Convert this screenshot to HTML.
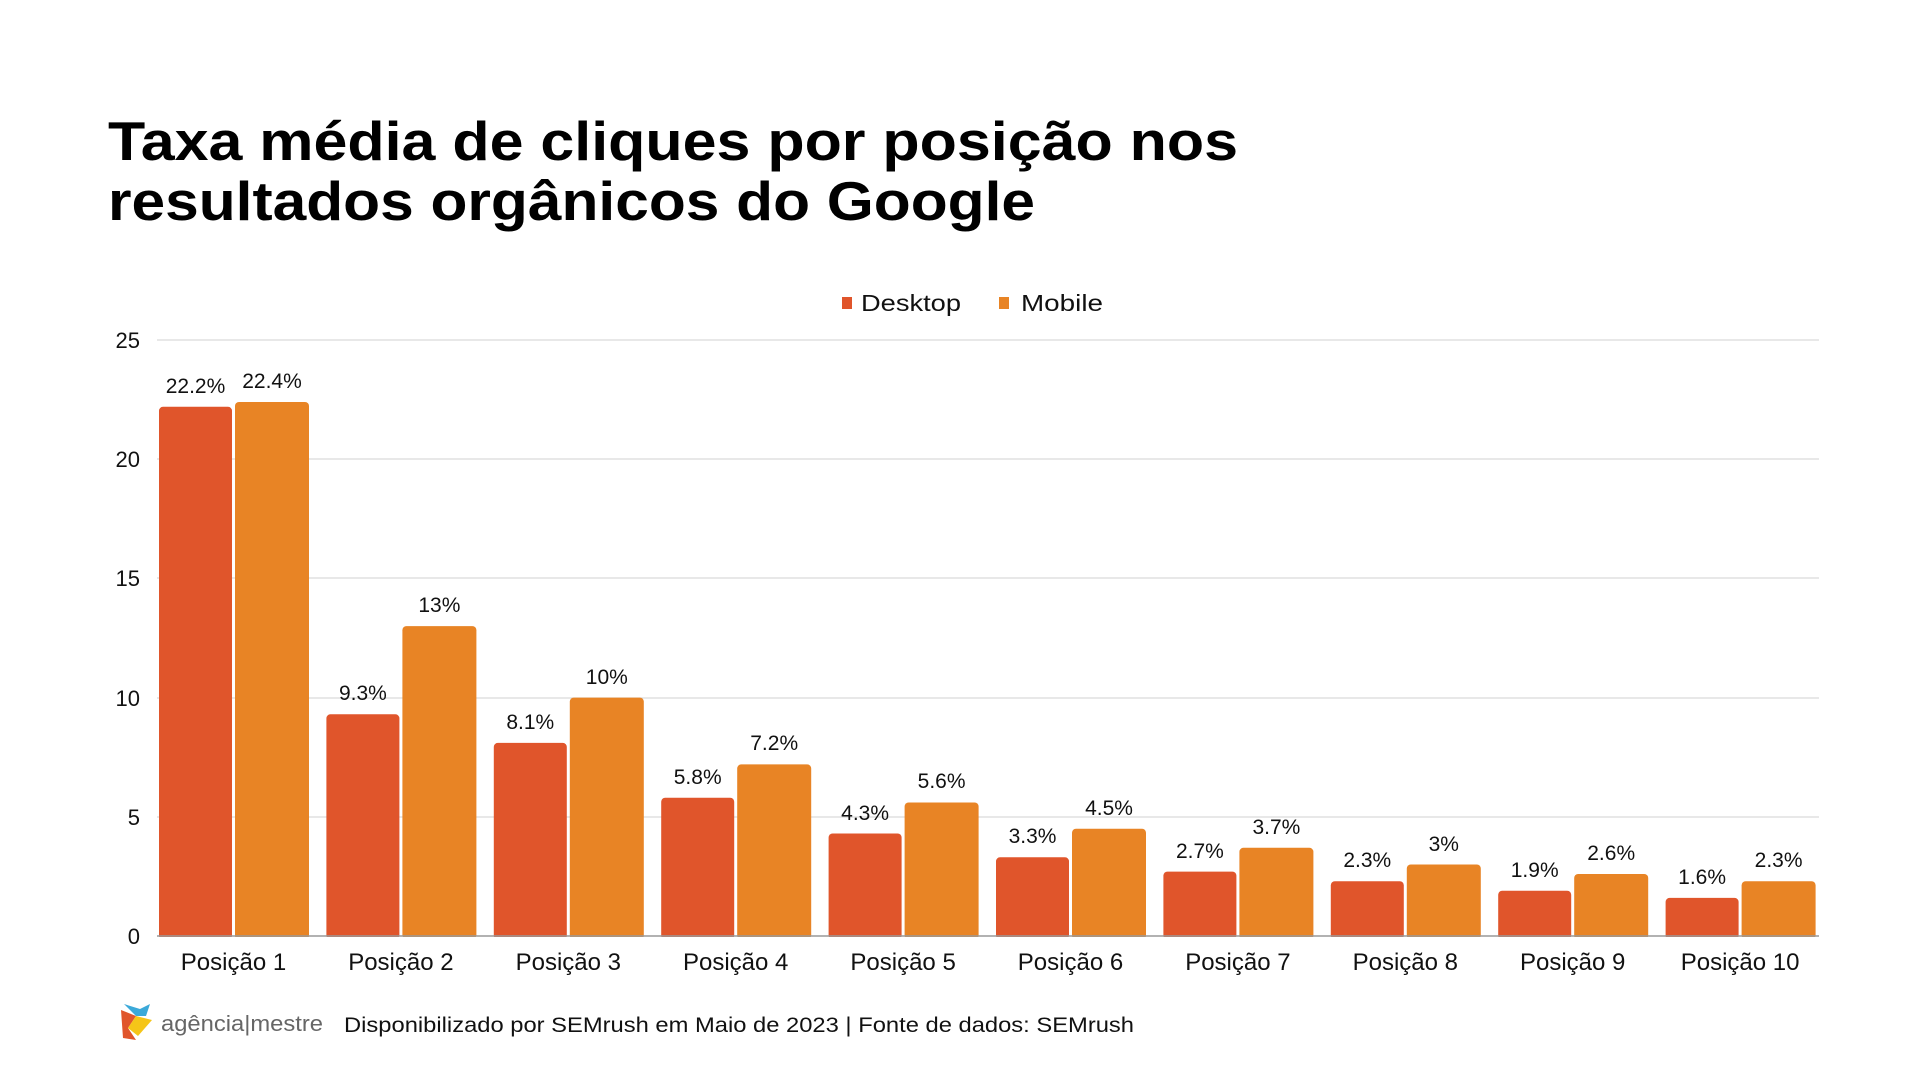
<!DOCTYPE html>
<html><head><meta charset="utf-8"><style>
html,body{margin:0;padding:0;background:#fff;}
svg{display:block;font-family:"Liberation Sans",sans-serif;}
</style></head><body>
<svg width="1920" height="1080" viewBox="0 0 1920 1080" xmlns="http://www.w3.org/2000/svg">
<rect width="1920" height="1080" fill="#fff"/>
<text x="108" y="160" font-size="55" font-weight="bold" fill="#000" textLength="1130" lengthAdjust="spacingAndGlyphs">Taxa média de cliques por posição nos</text>
<text x="108" y="220" font-size="55" font-weight="bold" fill="#000" textLength="927" lengthAdjust="spacingAndGlyphs">resultados orgânicos do Google</text>
<rect x="842" y="297" width="10" height="12" fill="#E0552B"/>
<text x="861" y="311" font-size="23" fill="#111" textLength="100" lengthAdjust="spacingAndGlyphs">Desktop</text>
<rect x="999" y="297" width="10" height="12" fill="#E88425"/>
<text x="1021" y="311" font-size="23" fill="#111" textLength="82" lengthAdjust="spacingAndGlyphs">Mobile</text>
<g stroke="#d9d9d9" stroke-width="1.2">
<line x1="157" y1="340" x2="1819" y2="340"/>
<line x1="157" y1="459" x2="1819" y2="459"/>
<line x1="157" y1="578" x2="1819" y2="578"/>
<line x1="157" y1="698" x2="1819" y2="698"/>
<line x1="157" y1="817" x2="1819" y2="817"/>
</g>
<g fill="#E0552B">
<rect x="159" y="406.8" width="73" height="533" rx="4"/>
<rect x="326.4" y="714.3" width="73" height="225" rx="4"/>
<rect x="493.8" y="742.9" width="73" height="197" rx="4"/>
<rect x="661.2" y="797.7" width="73" height="142" rx="4"/>
<rect x="828.6" y="833.5" width="73" height="106" rx="4"/>
<rect x="996" y="857.3" width="73" height="82" rx="4"/>
<rect x="1163.4" y="871.6" width="73" height="68" rx="4"/>
<rect x="1330.8" y="881.2" width="73" height="58" rx="4"/>
<rect x="1498.2" y="890.7" width="73" height="49" rx="4"/>
<rect x="1665.6" y="897.9" width="73" height="42" rx="4"/>
</g>
<g fill="#E88425">
<rect x="235" y="402" width="74" height="538" rx="4"/>
<rect x="402.4" y="626.1" width="74" height="313" rx="4"/>
<rect x="569.8" y="697.6" width="74" height="242" rx="4"/>
<rect x="737.2" y="764.4" width="74" height="175" rx="4"/>
<rect x="904.6" y="802.5" width="74" height="137" rx="4"/>
<rect x="1072" y="828.7" width="74" height="111" rx="4"/>
<rect x="1239.4" y="847.8" width="74" height="92" rx="4"/>
<rect x="1406.8" y="864.5" width="74" height="75" rx="4"/>
<rect x="1574.2" y="874" width="74" height="66" rx="4"/>
<rect x="1741.6" y="881.2" width="74" height="58" rx="4"/>
</g>
<rect x="150" y="937" width="1770" height="10" fill="#fff"/>
<line x1="157" y1="936" x2="1819" y2="936" stroke="#999" stroke-width="1.5"/>
<g font-size="22" fill="#111" text-anchor="end">
<text x="140" y="348">25</text><text x="140" y="467">20</text><text x="140" y="586">15</text>
<text x="140" y="706">10</text><text x="140" y="825">5</text><text x="140" y="944">0</text>
</g>
<g font-size="21" fill="#111" text-anchor="middle">
<text x="195.5" y="393">22.2%</text><text x="272" y="388">22.4%</text>
<text x="362.9" y="700">9.3%</text><text x="439.4" y="612">13%</text>
<text x="530.3" y="729">8.1%</text><text x="606.8" y="684">10%</text>
<text x="697.7" y="784">5.8%</text><text x="774.2" y="750">7.2%</text>
<text x="865.1" y="820">4.3%</text><text x="941.6" y="788">5.6%</text>
<text x="1032.5" y="843">3.3%</text><text x="1109" y="815">4.5%</text>
<text x="1199.9" y="858">2.7%</text><text x="1276.4" y="834">3.7%</text>
<text x="1367.3" y="867">2.3%</text><text x="1443.8" y="851">3%</text>
<text x="1534.7" y="877">1.9%</text><text x="1611.2" y="860">2.6%</text>
<text x="1702.1" y="884">1.6%</text><text x="1778.6" y="867">2.3%</text>
</g>
<g font-size="24" fill="#111" text-anchor="middle">
<text x="233.5" y="970">Posição 1</text>
<text x="400.9" y="970">Posição 2</text>
<text x="568.3" y="970">Posição 3</text>
<text x="735.7" y="970">Posição 4</text>
<text x="903.1" y="970">Posição 5</text>
<text x="1070.5" y="970">Posição 6</text>
<text x="1237.9" y="970">Posição 7</text>
<text x="1405.3" y="970">Posição 8</text>
<text x="1572.7" y="970">Posição 9</text>
<text x="1740.1" y="970">Posição 10</text>
</g>
<g>
<path d="M121 1010 L136 1016 L128 1028 L136 1040 L123 1038 Z" fill="#E0552B"/>
<path d="M124 1004 L140 1009 L150 1004 L146 1016 L136 1016 Z" fill="#3BA9D9"/>
<path d="M136 1016 L152 1020 L138 1036 L128 1028 Z" fill="#F5C518"/>
</g>
<text x="161" y="1031" font-size="22" fill="#666" textLength="162" lengthAdjust="spacingAndGlyphs">agência|mestre</text>
<text x="344" y="1032" font-size="21" fill="#111" textLength="790" lengthAdjust="spacingAndGlyphs">Disponibilizado por SEMrush em Maio de 2023 | Fonte de dados: SEMrush</text>
</svg>
</body></html>
